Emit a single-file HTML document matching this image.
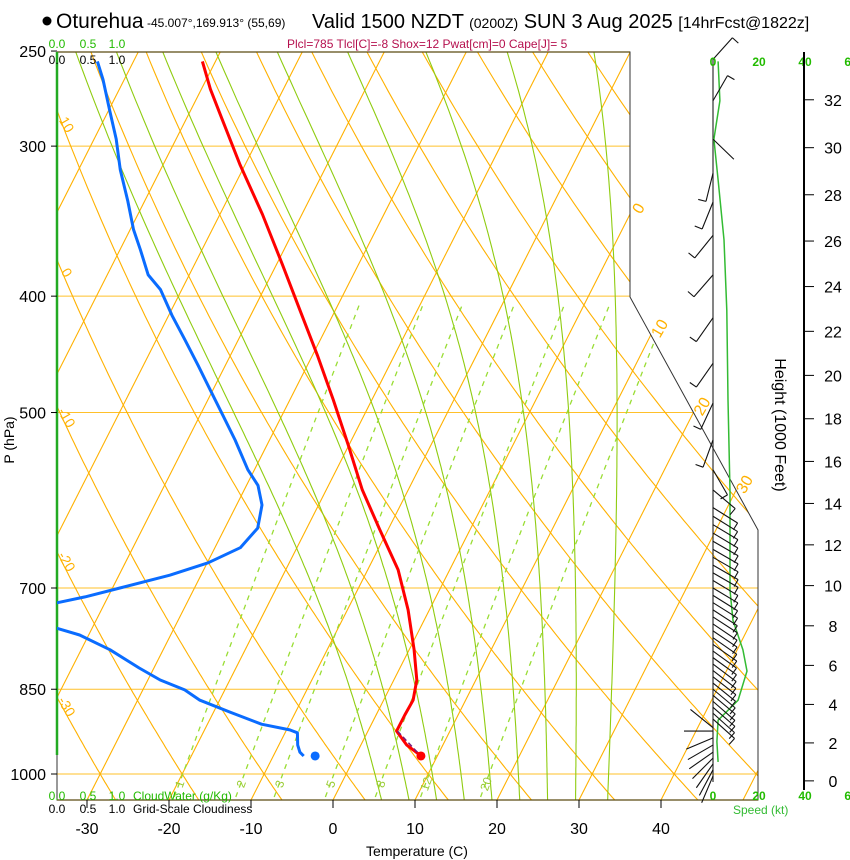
<!DOCTYPE html>
<html><head><meta charset="utf-8"><style>
html,body{margin:0;padding:0;background:#fff;}
svg{display:block;font-family:"Liberation Sans",sans-serif;}
</style></head><body>
<svg id="chart" width="850" height="860" viewBox="0 0 850 860" xmlns="http://www.w3.org/2000/svg">
<defs><clipPath id="plotClip"><polygon points="57,52 630,52 630,297 758,530 758,800 57,800"/></clipPath></defs>
<g>
<circle cx="47" cy="21" r="4.5" fill="#000"/>
<text x="56" y="28" font-size="21">Oturehua</text>
<text x="147" y="27" font-size="12">-45.007°,169.913° (55,69)</text>
<text x="312" y="28" font-size="20">Valid 1500 NZDT <tspan font-size="14">(0200Z)</tspan> SUN 3 Aug 2025 <tspan font-size="16">[14hrFcst@1822z]</tspan></text>
<text x="287" y="48" font-size="12" fill="#b5104e">Plcl=785 Tlcl[C]=-8 Shox=12 Pwat[cm]=0 Cape[J]= 5</text>
</g>
<g id="grid" clip-path="url(#plotClip)"></g>
<g id="labels"></g>
<g id="frame"></g>
<g id="profiles" clip-path="url(#plotClip)"></g>
<g id="wind"></g>
<g id="axes"></g>
</svg>
<script>
// ---- data (pressure hPa / temperature C) ----
const tempP=[255,269,285,311,342,377,411,448,488,532,580,626,676,730,788,835,868,893,921,946,964];
const tempC=[-61.6,-58.9,-55.6,-50.6,-44.8,-39.2,-34.3,-29.4,-24.7,-20.1,-15.6,-11.0,-6.3,-2.6,0.6,2.8,3.6,3.5,3.5,5.6,7.8];
const dewP=[255,264,280,296,314,333,352,366,384,395,415,435,457,479,502,527,558,575,597,624,648,667,683,700,712,720,737,756,766,788,816,835,851,868,888,909,919,924,946,959,966];
const dewC=[-74.4,-72.6,-69.9,-67.3,-64.9,-62.1,-59.6,-57.5,-55.0,-52.6,-49.6,-46.5,-43.3,-40.3,-37.3,-34.2,-30.8,-28.6,-26.9,-26.0,-26.9,-29.9,-33.8,-39.1,-42.8,-45.8,-52.0,-44.4,-41.1,-36.5,-31.8,-28.5,-24.9,-22.4,-18.0,-13.4,-9.6,-8.5,-7.7,-7.0,-6.3];
const sfcP=966, sfcT=8.0, sfcTd=-4.9;
const parcelP=[921,962];
const parcelC=[3.6,7.6];
const spdP=[255,275,296,320,359,411,488,582,703,745,788,821,868,902,940,977];
const spdKt=[2.2,3,0.4,2.2,4.8,6,6.5,7.4,7.4,8.7,13,14.8,10.9,2.2,1.7,2.2];
const barbP=[254,275,296,316,334,356,384,417,455,491,527,558,580,600,610,620,630,640,650,660,670,680,690,700,710,720,730,740,750,760,770,780,790,800,810,820,830,840,850,860,870,880,890,900,915,921,933,946,959,970,981,992,1004];
const barbDir=[42,30,134,194,202,219,221,215,215,205,200,150,130,122,122,121,121,120,120,120,120,120,121,121,122,122,123,123,124,124,125,125,126,126,127,128,128,129,130,130,131,131,132,132,309,270,247,240,235,225,215,208,203];
const barbKt=[10,10,3,10,10,10,10,10,10,10,10,10,10,10,10,10,10,10,10,10,10,10,10,10,10,10,10,10,10,10,10,10,10,10,10,10,10,10,10,10,10,10,10,10,3,3,3,3,3,3,3,3,3];
const pLevels=[250,300,400,500,700,850,1000];
const tTicks=[-30,-20,-10,0,10,20,30,40];
const hTicks=[0,2,4,6,8,10,12,14,16,18,20,22,24,26,28,30,32];
const isoLabels=[0,10,20,30];
const thetaLabels=[10,0,-10,-20,-30];
const mixW=[1,2,3,5,8,12,20];
const moistT0=[3.5,7,10.5,14,17.5,21,24.5,28,32];

// ---- axes functions ----
const NS="http://www.w3.org/2000/svg";
function yP(p){return 774-521.5*Math.log(1000/p);}
function xT(T,p){return 333+8.2*T+0.507*(800-yP(p));}
function pY(y){return 1000*Math.exp(-(774-y)/521.5);}
function mk(tag,attrs,parent){const e=document.createElementNS(NS,tag);for(const k in attrs)e.setAttribute(k,attrs[k]);parent.appendChild(e);return e;}
function pts(arr){return arr.map(a=>a[0].toFixed(1)+","+a[1].toFixed(1)).join(" ");}
const grid=document.getElementById('grid'),labels=document.getElementById('labels'),frame=document.getElementById('frame'),prof=document.getElementById('profiles'),wind=document.getElementById('wind'),axes=document.getElementById('axes');

pLevels.forEach(p=>{if(p===250)return;
 const l=mk('line',{x1:57,x2:760,y1:yP(p),y2:yP(p),stroke:'#ffc02a','stroke-width':1},grid);
 
 });
for(let T=-120;T<=50;T+=10){
 const l=mk('line',{x1:xT(T,1060),y1:yP(1060),x2:xT(T,240),y2:yP(240),stroke:'#ffb100','stroke-width':1.1},grid);
 
 }
function dryT(th,p){return (th+273.15)*Math.pow(p/1000,0.2857)-273.15;}
for(let th=-50;th<=200;th+=10){const a=[];for(let p=1060;p>=240;p-=5)a.push([xT(dryT(th,p),p),yP(p)]);
 const l=mk('polyline',{points:pts(a),fill:'none',stroke:'#ffb100','stroke-width':1.1},grid);
 
 }
function es(Tc){return 6.112*Math.exp(17.67*Tc/(Tc+243.5));}
function dTdp(Tc,p){const T=Tc+273.15,e=es(Tc),rs=0.622*e/(p-e),Lv=2.5e6,Rd=287,cp=1005;
 return (Rd*T+Lv*rs)/(p*(cp+Lv*Lv*rs*0.622/(Rd*T*T)));}
moistT0.forEach(T0=>{const up=[],dn=[];let T=T0;
 for(let p=1000;p>=240;p-=5){up.push([xT(T,p),yP(p)]);T-=dTdp(T,p)*5;}
 T=T0;for(let p=1000;p<=1060;p+=5){dn.unshift([xT(T,p),yP(p)]);T+=dTdp(T,p)*5;}
 const l=mk('polyline',{points:pts(dn.concat(up)),fill:'none',stroke:'#8fcc10','stroke-width':1.1},grid);
 
 });
function tdW(w,p){const e=w*p/(622+w),L=Math.log(e/6.112);return 243.5*L/(17.67-L)-(2.8+1.5*Math.log(w))*Math.log(p/400)/Math.log(2.5);}
mixW.forEach(w=>{const a=[];for(let p=1045;p>=400;p-=10)a.push([xT(tdW(w,p),p),yP(p)]);
 const l=mk('polyline',{points:pts(a),fill:'none',stroke:'#99dd33','stroke-width':1.3,'stroke-dasharray':'5,5'},grid);
 
 
 const x=xT(tdW(w,1000),1000)-3,y=788;
 const t=mk('text',{x:x,y:y,'font-size':12,fill:'#99cc33','text-anchor':'middle',transform:'rotate(-70 '+x+' '+(y-4)+')'},labels);t.textContent=w;
 
 });
isoLabels.forEach(T=>{let y=52,x;for(let yy=60;yy<800;yy++){const p=pY(yy);x=xT(T,p);const lim=yy<297?630:(yy<530?630+(yy-297)*128/233:758);if(x<=lim){y=yy;break;}}
 x=xT(T,pY(y));const t=mk('text',{x:x+10,y:y-2,'font-size':16,fill:'#ffb100','text-anchor':'middle',transform:'rotate(-60 '+(x+10)+' '+(y-6)+')'},labels);t.textContent=T;
 
 });
thetaLabels.forEach(th=>{let y=0;for(let yy=52;yy<800;yy++){if(xT(dryT(th,pY(yy)),pY(yy))>=64){y=yy;break;}}
 const t=mk('text',{x:66,y:y,'font-size':14,fill:'#ffb100','text-anchor':'middle',transform:'rotate(60 66 '+(y-4)+')'},labels);t.textContent=th;
 
 });

mk('polyline',{points:'57,52 630,52 630,297 758,530 758,800 57,800 57,52',fill:'none',stroke:'#333','stroke-width':1},frame);
mk('line',{x1:57,y1:52,x2:630,y2:52,stroke:'#5a4a10','stroke-width':1.3},frame);
mk('line',{x1:57,y1:800,x2:758,y2:800,stroke:'#5a4a10','stroke-width':1.3},frame);
mk('line',{x1:57,y1:52,x2:57,y2:755,stroke:'#22aa22','stroke-width':2.5},frame);

function line(P,C){return pts(P.map((p,i)=>[xT(C[i],p),yP(p)]));}
const tl=mk('polyline',{points:line(tempP,tempC),fill:'none',stroke:'#ff0000','stroke-width':3,'stroke-linejoin':'round'},prof);


const dl=mk('polyline',{points:line(dewP,dewC),fill:'none',stroke:'#0a6cff','stroke-width':3,'stroke-linejoin':'round'},prof);


const pl=mk('polyline',{points:line(parcelP,parcelC),fill:'none',stroke:'#7a1a7a','stroke-width':1.5,'stroke-dasharray':'5,3'},prof);


const st=mk('circle',{cx:xT(sfcT,sfcP),cy:yP(sfcP),r:4.5,fill:'#ff0000'},prof);


const sd=mk('circle',{cx:xT(sfcTd,sfcP),cy:yP(sfcP),r:4.5,fill:'#0a6cff'},prof);



function xS(kt){return 713+2.3*kt;}
mk('line',{x1:713,y1:58,x2:713,y2:782,stroke:'#333','stroke-width':1.2},wind);
const sp=mk('polyline',{points:pts(spdP.map((p,i)=>[xS(spdKt[i]),yP(p)])),fill:'none',stroke:'#33bb33','stroke-width':1.5},wind);


barbP.forEach((p,i)=>{const y=yP(p),b=barbDir[i]*Math.PI/180,sx=Math.sin(b),sy=-Math.cos(b),L=29;
 const tx=713+L*sx,ty=y+L*sy;
 const g=mk('g',{},wind);
 
 
 mk('line',{x1:713,y1:y,x2:tx,y2:ty,stroke:'#111','stroke-width':1.1},g);
 let n=Math.floor(barbKt[i]/10),h=(barbKt[i]%10)>=5;
 for(let k=0;k<n;k++){const bx=tx-k*4*sx,by=ty-k*4*sy;mk('line',{x1:bx,y1:by,x2:bx-8*sy,y2:by+8*sx,stroke:'#111','stroke-width':1.1},g);}
 if(h){const bx=tx-n*4*sx,by=ty-n*4*sy;mk('line',{x1:bx,y1:by,x2:bx-5*sy,y2:by+5*sx,stroke:'#111','stroke-width':1.1},g);}
});
[0,20,40,60].forEach(v=>{[66,800].forEach(y=>{const t=mk('text',{x:xS(v),y:y,'font-size':12,'font-weight':'bold',fill:'#22bb00','text-anchor':'middle'},wind);t.textContent=v;
 
 });});
const skt=mk('text',{x:733,y:814,'font-size':12,fill:'#33bb33'},wind);skt.textContent='Speed (kt)';



mk('line',{x1:804,y1:52,x2:804,y2:790,stroke:'#000','stroke-width':2},axes);
hTicks.forEach(h=>{const zm=h*1000*0.3048,p=1013.25*Math.pow(1-2.25577e-5*zm,5.2559),y=yP(p);
 mk('line',{x1:804,y1:y,x2:814,y2:y,stroke:'#000','stroke-width':1},axes);
 const t=mk('text',{x:833,y:y+6,'font-size':16,'text-anchor':'middle'},axes);t.textContent=h;
 
 });
const ht=mk('text',{x:775,y:425,'font-size':16,'text-anchor':'middle',transform:'rotate(90 775 425)'},axes);ht.textContent='Height (1000 Feet)';



pLevels.forEach(p=>{const y=yP(p);mk('line',{x1:51,y1:y,x2:57,y2:y,stroke:'#000'},axes);
 const t=mk('text',{x:46,y:y+6,'font-size':16,'text-anchor':'end'},axes);t.textContent=p;
 
 });
const pt=mk('text',{x:14,y:440,'font-size':14,'text-anchor':'middle',transform:'rotate(-90 14 440)'},axes);pt.textContent='P (hPa)';



tTicks.forEach(T=>{const x=333+8.2*T;mk('line',{x1:x,y1:800,x2:x,y2:808,stroke:'#000'},axes);
 const t=mk('text',{x:x,y:834,'font-size':16,'text-anchor':'middle'},axes);t.textContent=T;
 
 });
const tt=mk('text',{x:417,y:856,'font-size':14,'text-anchor':'middle'},axes);tt.textContent='Temperature (C)';



[['0.0',57],['0.5',88],['1.0',117]].forEach(([s,x])=>{
 [[48,'#22bb00'],[64,'#000'],[800,'#22bb00'],[813,'#000']].forEach(([y,c])=>{const t=mk('text',{x:x,y:y,'font-size':12,fill:c,'text-anchor':'middle'},axes);t.textContent=s;
 
 });});
const cw=mk('text',{x:133,y:800,'font-size':12,fill:'#22bb00'},axes);cw.textContent='CloudWater (g/Kg)';


const gc=mk('text',{x:133,y:813,'font-size':12,fill:'#000'},axes);gc.textContent='Grid-Scale Cloudiness';


</script>
</body></html>
